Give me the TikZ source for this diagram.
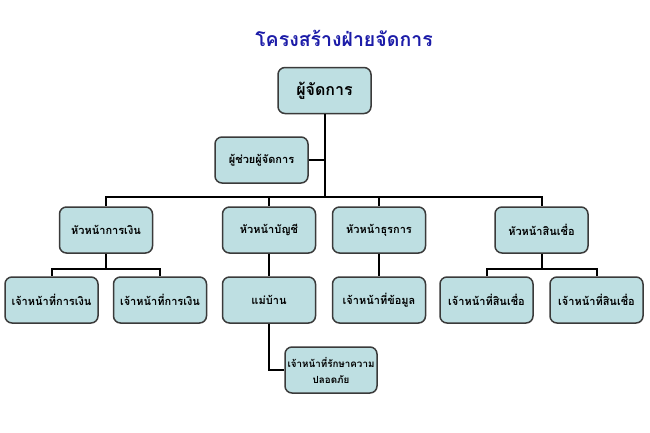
\documentclass[tikz,border=0pt]{standalone}
\usepackage{fontspec}
\newfontfamily\thaifont[Script=Thai]{Loma}
\definecolor{boxfill}{HTML}{BEDFE2}
\definecolor{boxline}{HTML}{3A3A3A}
\definecolor{titleblue}{HTML}{1C1CA8}
\tikzset{
  orgbox/.style={draw=boxline, line width=1.5pt, fill=boxfill, rounded corners=7pt,
    minimum width=93pt, minimum height=46pt, inner sep=1pt, align=center,
    font=\thaifont\bfseries\fontsize{11}{17}\selectfont},
  link/.style={line width=2pt, black}
}
\begin{document}
\begin{tikzpicture}[x=1pt,y=-1pt]
\useasboundingbox[fill=white] (0,0) rectangle (650,432);
\node[font=\thaifont\bfseries\fontsize{19.5}{22}\selectfont, text=titleblue] (title) at (344,38) {โครงสร้างฝ่ายจัดการ};
\node[orgbox, font=\thaifont\bfseries\fontsize{16}{18}\selectfont] (top) at (324.5,90.5) {ผู้จัดการ};
\node[orgbox] (asst) at (261.5,160) {ผู้ช่วยผู้จัดการ};
\node[orgbox] (l2a) at (106,230) {หัวหน้าการเงิน};
\node[orgbox] (l2b) at (269,230) {หัวหน้าบัญชี};
\node[orgbox] (l2c) at (379,230) {หัวหน้าธุรการ};
\node[orgbox] (l2d) at (541.5,230) {หัวหน้าสินเชื่อ};
\node[orgbox] (l3a) at (51.5,300) {เจ้าหน้าที่การเงิน};
\node[orgbox] (l3b) at (160,300) {เจ้าหน้าที่การเงิน};
\node[orgbox] (l3c) at (269,300) {แม่บ้าน};
\node[orgbox] (l3d) at (379,300) {เจ้าหน้าที่ข้อมูล};
\node[orgbox] (l3e) at (486.5,300) {เจ้าหน้าที่สินเชื่อ};
\node[orgbox] (l3f) at (596.5,300) {เจ้าหน้าที่สินเชื่อ};
\node[orgbox, minimum width=92pt, font=\thaifont\bfseries\fontsize{9.8}{16}\selectfont] (sec) at (331,370) {เจ้าหน้าที่รักษาความ\\ปลอดภัย};
\coordinate (bus) at (324.5,197);
\coordinate (busa) at (106,269);
\coordinate (busd) at (541.5,269);
\draw[link] (top.south) -- (bus);
\draw[link] (asst.east) -- (asst.east -| top.south);
\draw[link] (bus) -| (l2a.north);
\draw[link] (bus) -| (l2b.north);
\draw[link] (bus) -| (l2c.north);
\draw[link] (bus) -| (l2d.north);
\draw[link] (l2a.south) -- (busa);
\draw[link] (busa) -| (l3a.north);
\draw[link] (busa) -| (l3b.north);
\draw[link] (l2d.south) -- (busd);
\draw[link] (busd) -| (l3e.north);
\draw[link] (busd) -| (l3f.north);
\draw[link] (l2b.south) -- (l3c.north);
\draw[link] (l2c.south) -- (l3d.north);
\draw[link] (l3c.south) |- (sec.west);
\end{tikzpicture}
\end{document}
